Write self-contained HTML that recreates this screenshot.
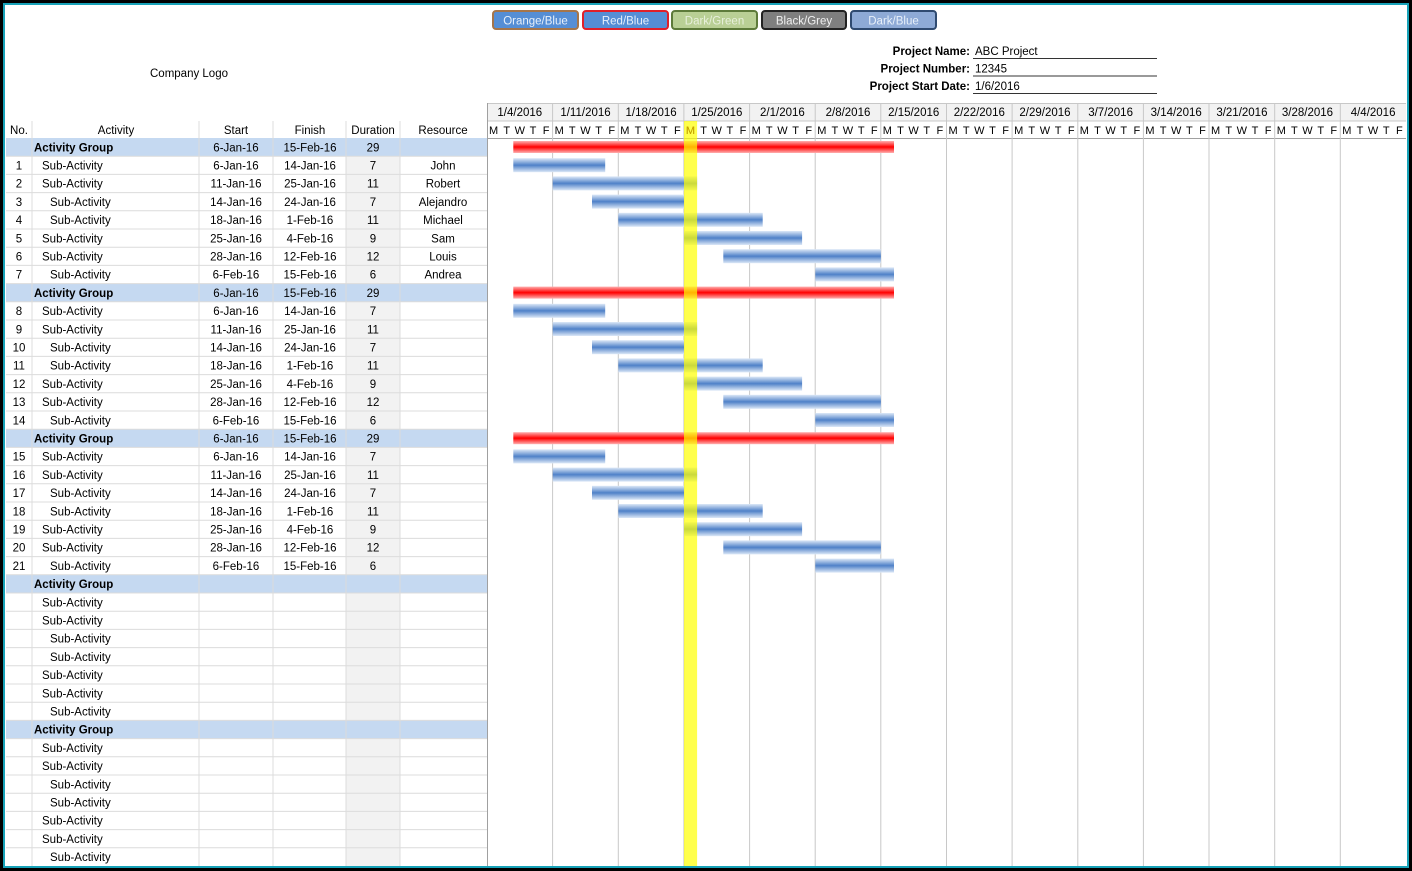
<!DOCTYPE html>
<html><head><meta charset="utf-8"><style>
html,body{margin:0;padding:0;background:#000;}
svg{display:block;font-family:"Liberation Sans",sans-serif;}
</style></head><body>
<svg width="1412" height="871" viewBox="0 0 1412 871" xmlns="http://www.w3.org/2000/svg">
<defs>
<linearGradient id="gb" x1="0" y1="0" x2="0" y2="1"><stop offset="0" stop-color="#dce8f7"/><stop offset="0.5" stop-color="#4f81c8"/><stop offset="1" stop-color="#dce8f7"/></linearGradient>
<linearGradient id="gr" x1="0" y1="0" x2="0" y2="1"><stop offset="0" stop-color="#ffb0b0"/><stop offset="0.5" stop-color="#ff0000"/><stop offset="1" stop-color="#ffb0b0"/></linearGradient>
</defs>
<rect x="0" y="0" width="1412" height="871" fill="#000"/>
<rect x="4" y="4" width="1404" height="863" fill="#fff" stroke="#17a2b8" stroke-width="2"/>

<!-- buttons -->
<g font-size="11.5" text-anchor="middle">
<rect x="493" y="11" width="85" height="18" rx="3" fill="#558ed5" stroke="#a5754a" stroke-width="2"/><text x="535.5" y="24.5" fill="#e8f0fa">Orange/Blue</text>
<rect x="583" y="11" width="85" height="18" rx="3" fill="#558ed5" stroke="#e0202a" stroke-width="2"/><text x="625.5" y="24.5" fill="#e8f0fa">Red/Blue</text>
<rect x="672" y="11" width="85" height="18" rx="3" fill="#b9cf95" stroke="#5d7a3a" stroke-width="2"/><text x="714.5" y="24.5" fill="#e8f0dc">Dark/Green</text>
<rect x="762" y="11" width="84" height="18" rx="3" fill="#7f7f7f" stroke="#222" stroke-width="2"/><text x="804" y="24.5" fill="#f0f0f0">Black/Grey</text>
<rect x="851" y="11" width="85" height="18" rx="3" fill="#8eaad6" stroke="#2f4a70" stroke-width="2"/><text x="893.5" y="24.5" fill="#e8f0fa">Dark/Blue</text>
</g>

<text x="189" y="77" font-size="11.5" text-anchor="middle">Company Logo</text>

<g font-size="11.5">
<text x="970" y="55" text-anchor="end" font-weight="bold">Project Name:</text><text x="975" y="55">ABC Project</text>
<text x="970" y="72.5" text-anchor="end" font-weight="bold">Project Number:</text><text x="975" y="72.5">12345</text>
<text x="970" y="90" text-anchor="end" font-weight="bold">Project Start Date:</text><text x="975" y="90">1/6/2016</text>
<g stroke="#333" stroke-width="1"><line x1="973" y1="58.5" x2="1157" y2="58.5"/><line x1="973" y1="76" x2="1157" y2="76"/><line x1="973" y1="93.5" x2="1157" y2="93.5"/></g>
</g>

<!-- gantt header -->
<rect x="487" y="103" width="919" height="18" fill="#f2f2f2"/>
<g stroke="#c8c8c8" stroke-width="1">
<line x1="487" y1="103.5" x2="1406" y2="103.5"/>
<line x1="487" y1="121" x2="1406" y2="121"/>
<line x1="6" y1="138.5" x2="1406" y2="138.5" stroke="#a0a0a0"/>
</g>

<!-- left table backgrounds -->
<rect x="346" y="138" width="54" height="728" fill="#f2f2f2"/>
<g fill="#c5d9f1">
<rect x="6" y="138" width="481" height="18.2"/>
<rect x="6" y="283.6" width="481" height="18.2"/>
<rect x="6" y="429.2" width="481" height="18.2"/>
<rect x="6" y="574.8" width="481" height="18.2"/>
<rect x="6" y="720.4" width="481" height="18.2"/>
</g>
<g stroke="#dcdcdc" stroke-width="1">
<line x1="6" y1="156.2" x2="487" y2="156.2"/><line x1="6" y1="174.4" x2="487" y2="174.4"/><line x1="6" y1="192.6" x2="487" y2="192.6"/><line x1="6" y1="210.8" x2="487" y2="210.8"/><line x1="6" y1="229" x2="487" y2="229"/><line x1="6" y1="247.2" x2="487" y2="247.2"/><line x1="6" y1="265.4" x2="487" y2="265.4"/><line x1="6" y1="283.6" x2="487" y2="283.6"/>
<line x1="6" y1="301.8" x2="487" y2="301.8"/><line x1="6" y1="320" x2="487" y2="320"/><line x1="6" y1="338.2" x2="487" y2="338.2"/><line x1="6" y1="356.4" x2="487" y2="356.4"/><line x1="6" y1="374.6" x2="487" y2="374.6"/><line x1="6" y1="392.8" x2="487" y2="392.8"/><line x1="6" y1="411" x2="487" y2="411"/><line x1="6" y1="429.2" x2="487" y2="429.2"/>
<line x1="6" y1="447.4" x2="487" y2="447.4"/><line x1="6" y1="465.6" x2="487" y2="465.6"/><line x1="6" y1="483.8" x2="487" y2="483.8"/><line x1="6" y1="502" x2="487" y2="502"/><line x1="6" y1="520.2" x2="487" y2="520.2"/><line x1="6" y1="538.4" x2="487" y2="538.4"/><line x1="6" y1="556.6" x2="487" y2="556.6"/><line x1="6" y1="574.8" x2="487" y2="574.8"/>
<line x1="6" y1="593" x2="487" y2="593"/><line x1="6" y1="611.2" x2="487" y2="611.2"/><line x1="6" y1="629.4" x2="487" y2="629.4"/><line x1="6" y1="647.6" x2="487" y2="647.6"/><line x1="6" y1="665.8" x2="487" y2="665.8"/><line x1="6" y1="684" x2="487" y2="684"/><line x1="6" y1="702.2" x2="487" y2="702.2"/><line x1="6" y1="720.4" x2="487" y2="720.4"/>
<line x1="6" y1="738.6" x2="487" y2="738.6"/><line x1="6" y1="756.8" x2="487" y2="756.8"/><line x1="6" y1="775" x2="487" y2="775"/><line x1="6" y1="793.2" x2="487" y2="793.2"/><line x1="6" y1="811.4" x2="487" y2="811.4"/><line x1="6" y1="829.6" x2="487" y2="829.6"/><line x1="6" y1="847.8" x2="487" y2="847.8"/>
<line x1="32" y1="121" x2="32" y2="866"/><line x1="199" y1="121" x2="199" y2="866"/><line x1="273" y1="121" x2="273" y2="866"/><line x1="346" y1="121" x2="346" y2="866"/><line x1="400" y1="121" x2="400" y2="866"/>
</g>
<line x1="487.5" y1="103" x2="487.5" y2="866" stroke="#a0a0a0"/>

<!-- week lines -->
<g stroke="#c8c8c8" stroke-width="1">
<line x1="552.6" y1="103" x2="552.6" y2="866"/><line x1="618.3" y1="103" x2="618.3" y2="866"/><line x1="683.9" y1="103" x2="683.9" y2="866"/><line x1="749.6" y1="103" x2="749.6" y2="866"/><line x1="815.2" y1="103" x2="815.2" y2="866"/><line x1="880.8" y1="103" x2="880.8" y2="866"/><line x1="946.5" y1="103" x2="946.5" y2="866"/><line x1="1012.1" y1="103" x2="1012.1" y2="866"/><line x1="1077.8" y1="103" x2="1077.8" y2="866"/><line x1="1143.4" y1="103" x2="1143.4" y2="866"/><line x1="1209" y1="103" x2="1209" y2="866"/><line x1="1274.7" y1="103" x2="1274.7" y2="866"/><line x1="1340.3" y1="103" x2="1340.3" y2="866"/>
</g>

<!-- header texts -->
<g font-size="11.5" text-anchor="middle">
<text x="19" y="134">No.</text><text x="116" y="134">Activity</text><text x="236" y="134">Start</text><text x="310" y="134">Finish</text><text x="373" y="134">Duration</text><text x="443" y="134">Resource</text>
<text x="519.8" y="116">1/4/2016</text><text x="585.5" y="116">1/11/2016</text><text x="651.1" y="116">1/18/2016</text><text x="716.8" y="116">1/25/2016</text><text x="782.4" y="116">2/1/2016</text><text x="848" y="116">2/8/2016</text><text x="913.7" y="116">2/15/2016</text><text x="979.3" y="116">2/22/2016</text><text x="1045" y="116">2/29/2016</text><text x="1110.6" y="116">3/7/2016</text><text x="1176.2" y="116">3/14/2016</text><text x="1241.9" y="116">3/21/2016</text><text x="1307.5" y="116">3/28/2016</text><text x="1373.1" y="116">4/4/2016</text>
</g>
<g font-size="11" text-anchor="middle">
<g transform="translate(487,134)"><text x="6.6 19.7 32.8 46 59.1">MTWTF</text></g>
<g transform="translate(552.6,134)"><text x="6.6 19.7 32.8 46 59.1">MTWTF</text></g>
<g transform="translate(618.3,134)"><text x="6.6 19.7 32.8 46 59.1">MTWTF</text></g>
<g transform="translate(683.9,134)"><text x="6.6 19.7 32.8 46 59.1">MTWTF</text></g>
<g transform="translate(749.6,134)"><text x="6.6 19.7 32.8 46 59.1">MTWTF</text></g>
<g transform="translate(815.2,134)"><text x="6.6 19.7 32.8 46 59.1">MTWTF</text></g>
<g transform="translate(880.8,134)"><text x="6.6 19.7 32.8 46 59.1">MTWTF</text></g>
<g transform="translate(946.5,134)"><text x="6.6 19.7 32.8 46 59.1">MTWTF</text></g>
<g transform="translate(1012.1,134)"><text x="6.6 19.7 32.8 46 59.1">MTWTF</text></g>
<g transform="translate(1077.8,134)"><text x="6.6 19.7 32.8 46 59.1">MTWTF</text></g>
<g transform="translate(1143.4,134)"><text x="6.6 19.7 32.8 46 59.1">MTWTF</text></g>
<g transform="translate(1209,134)"><text x="6.6 19.7 32.8 46 59.1">MTWTF</text></g>
<g transform="translate(1274.7,134)"><text x="6.6 19.7 32.8 46 59.1">MTWTF</text></g>
<g transform="translate(1340.3,134)"><text x="6.6 19.7 32.8 46 59.1">MTWTF</text></g>
</g>

<!-- bars: 3 groups -->
<g id="bars">
<rect x="513.3" y="141" width="380.7" height="12" fill="url(#gr)"/>
<rect x="513.3" y="158.2" width="91.9" height="14" fill="url(#gb)"/>
<rect x="552.7" y="176.4" width="144.4" height="14" fill="url(#gb)"/>
<rect x="592" y="194.6" width="92" height="14" fill="url(#gb)"/>
<rect x="618.3" y="212.8" width="144.4" height="14" fill="url(#gb)"/>
<rect x="684" y="231" width="118.1" height="14" fill="url(#gb)"/>
<rect x="723.3" y="249.2" width="157.6" height="14" fill="url(#gb)"/>
<rect x="815.3" y="267.4" width="78.7" height="14" fill="url(#gb)"/>
</g>
<use href="#bars" y="145.6"/>
<use href="#bars" y="291.2"/>

<!-- today highlight -->
<rect x="684" y="121" width="13.1" height="745" fill="#ffff00" opacity="0.7"/>
<text x="690.5" y="134" font-size="11" text-anchor="middle" fill="#c8a000">M</text>

<!-- table rows text -->
<g font-size="11.5">
<!-- group 1 -->
<text x="34" y="151.3" font-weight="bold">Activity Group</text><text x="236" y="151.3" text-anchor="middle">6-Jan-16</text><text x="310" y="151.3" text-anchor="middle">15-Feb-16</text><text x="373" y="151.3" text-anchor="middle">29</text>
<text x="19" y="169.5" text-anchor="middle">1</text><text x="42" y="169.5">Sub-Activity</text><text x="236" y="169.5" text-anchor="middle">6-Jan-16</text><text x="310" y="169.5" text-anchor="middle">14-Jan-16</text><text x="373" y="169.5" text-anchor="middle">7</text><text x="443" y="169.5" text-anchor="middle">John</text>
<text x="19" y="187.7" text-anchor="middle">2</text><text x="42" y="187.7">Sub-Activity</text><text x="236" y="187.7" text-anchor="middle">11-Jan-16</text><text x="310" y="187.7" text-anchor="middle">25-Jan-16</text><text x="373" y="187.7" text-anchor="middle">11</text><text x="443" y="187.7" text-anchor="middle">Robert</text>
<text x="19" y="205.9" text-anchor="middle">3</text><text x="50" y="205.9">Sub-Activity</text><text x="236" y="205.9" text-anchor="middle">14-Jan-16</text><text x="310" y="205.9" text-anchor="middle">24-Jan-16</text><text x="373" y="205.9" text-anchor="middle">7</text><text x="443" y="205.9" text-anchor="middle">Alejandro</text>
<text x="19" y="224.1" text-anchor="middle">4</text><text x="50" y="224.1">Sub-Activity</text><text x="236" y="224.1" text-anchor="middle">18-Jan-16</text><text x="310" y="224.1" text-anchor="middle">1-Feb-16</text><text x="373" y="224.1" text-anchor="middle">11</text><text x="443" y="224.1" text-anchor="middle">Michael</text>
<text x="19" y="242.3" text-anchor="middle">5</text><text x="42" y="242.3">Sub-Activity</text><text x="236" y="242.3" text-anchor="middle">25-Jan-16</text><text x="310" y="242.3" text-anchor="middle">4-Feb-16</text><text x="373" y="242.3" text-anchor="middle">9</text><text x="443" y="242.3" text-anchor="middle">Sam</text>
<text x="19" y="260.5" text-anchor="middle">6</text><text x="42" y="260.5">Sub-Activity</text><text x="236" y="260.5" text-anchor="middle">28-Jan-16</text><text x="310" y="260.5" text-anchor="middle">12-Feb-16</text><text x="373" y="260.5" text-anchor="middle">12</text><text x="443" y="260.5" text-anchor="middle">Louis</text>
<text x="19" y="278.7" text-anchor="middle">7</text><text x="50" y="278.7">Sub-Activity</text><text x="236" y="278.7" text-anchor="middle">6-Feb-16</text><text x="310" y="278.7" text-anchor="middle">15-Feb-16</text><text x="373" y="278.7" text-anchor="middle">6</text><text x="443" y="278.7" text-anchor="middle">Andrea</text>
<!-- group 2 -->
<text x="34" y="296.9" font-weight="bold">Activity Group</text><text x="236" y="296.9" text-anchor="middle">6-Jan-16</text><text x="310" y="296.9" text-anchor="middle">15-Feb-16</text><text x="373" y="296.9" text-anchor="middle">29</text>
<text x="19" y="315.1" text-anchor="middle">8</text><text x="42" y="315.1">Sub-Activity</text><text x="236" y="315.1" text-anchor="middle">6-Jan-16</text><text x="310" y="315.1" text-anchor="middle">14-Jan-16</text><text x="373" y="315.1" text-anchor="middle">7</text>
<text x="19" y="333.3" text-anchor="middle">9</text><text x="42" y="333.3">Sub-Activity</text><text x="236" y="333.3" text-anchor="middle">11-Jan-16</text><text x="310" y="333.3" text-anchor="middle">25-Jan-16</text><text x="373" y="333.3" text-anchor="middle">11</text>
<text x="19" y="351.5" text-anchor="middle">10</text><text x="50" y="351.5">Sub-Activity</text><text x="236" y="351.5" text-anchor="middle">14-Jan-16</text><text x="310" y="351.5" text-anchor="middle">24-Jan-16</text><text x="373" y="351.5" text-anchor="middle">7</text>
<text x="19" y="369.7" text-anchor="middle">11</text><text x="50" y="369.7">Sub-Activity</text><text x="236" y="369.7" text-anchor="middle">18-Jan-16</text><text x="310" y="369.7" text-anchor="middle">1-Feb-16</text><text x="373" y="369.7" text-anchor="middle">11</text>
<text x="19" y="387.9" text-anchor="middle">12</text><text x="42" y="387.9">Sub-Activity</text><text x="236" y="387.9" text-anchor="middle">25-Jan-16</text><text x="310" y="387.9" text-anchor="middle">4-Feb-16</text><text x="373" y="387.9" text-anchor="middle">9</text>
<text x="19" y="406.1" text-anchor="middle">13</text><text x="42" y="406.1">Sub-Activity</text><text x="236" y="406.1" text-anchor="middle">28-Jan-16</text><text x="310" y="406.1" text-anchor="middle">12-Feb-16</text><text x="373" y="406.1" text-anchor="middle">12</text>
<text x="19" y="424.3" text-anchor="middle">14</text><text x="50" y="424.3">Sub-Activity</text><text x="236" y="424.3" text-anchor="middle">6-Feb-16</text><text x="310" y="424.3" text-anchor="middle">15-Feb-16</text><text x="373" y="424.3" text-anchor="middle">6</text>
<!-- group 3 -->
<text x="34" y="442.5" font-weight="bold">Activity Group</text><text x="236" y="442.5" text-anchor="middle">6-Jan-16</text><text x="310" y="442.5" text-anchor="middle">15-Feb-16</text><text x="373" y="442.5" text-anchor="middle">29</text>
<text x="19" y="460.7" text-anchor="middle">15</text><text x="42" y="460.7">Sub-Activity</text><text x="236" y="460.7" text-anchor="middle">6-Jan-16</text><text x="310" y="460.7" text-anchor="middle">14-Jan-16</text><text x="373" y="460.7" text-anchor="middle">7</text>
<text x="19" y="478.9" text-anchor="middle">16</text><text x="42" y="478.9">Sub-Activity</text><text x="236" y="478.9" text-anchor="middle">11-Jan-16</text><text x="310" y="478.9" text-anchor="middle">25-Jan-16</text><text x="373" y="478.9" text-anchor="middle">11</text>
<text x="19" y="497.1" text-anchor="middle">17</text><text x="50" y="497.1">Sub-Activity</text><text x="236" y="497.1" text-anchor="middle">14-Jan-16</text><text x="310" y="497.1" text-anchor="middle">24-Jan-16</text><text x="373" y="497.1" text-anchor="middle">7</text>
<text x="19" y="515.3" text-anchor="middle">18</text><text x="50" y="515.3">Sub-Activity</text><text x="236" y="515.3" text-anchor="middle">18-Jan-16</text><text x="310" y="515.3" text-anchor="middle">1-Feb-16</text><text x="373" y="515.3" text-anchor="middle">11</text>
<text x="19" y="533.5" text-anchor="middle">19</text><text x="42" y="533.5">Sub-Activity</text><text x="236" y="533.5" text-anchor="middle">25-Jan-16</text><text x="310" y="533.5" text-anchor="middle">4-Feb-16</text><text x="373" y="533.5" text-anchor="middle">9</text>
<text x="19" y="551.7" text-anchor="middle">20</text><text x="42" y="551.7">Sub-Activity</text><text x="236" y="551.7" text-anchor="middle">28-Jan-16</text><text x="310" y="551.7" text-anchor="middle">12-Feb-16</text><text x="373" y="551.7" text-anchor="middle">12</text>
<text x="19" y="569.9" text-anchor="middle">21</text><text x="50" y="569.9">Sub-Activity</text><text x="236" y="569.9" text-anchor="middle">6-Feb-16</text><text x="310" y="569.9" text-anchor="middle">15-Feb-16</text><text x="373" y="569.9" text-anchor="middle">6</text>
<!-- group 4 -->
<text x="34" y="588.1" font-weight="bold">Activity Group</text>
<text x="42" y="606.3">Sub-Activity</text>
<text x="42" y="624.5">Sub-Activity</text>
<text x="50" y="642.7">Sub-Activity</text>
<text x="50" y="660.9">Sub-Activity</text>
<text x="42" y="679.1">Sub-Activity</text>
<text x="42" y="697.3">Sub-Activity</text>
<text x="50" y="715.5">Sub-Activity</text>
<!-- group 5 -->
<text x="34" y="733.7" font-weight="bold">Activity Group</text>
<text x="42" y="751.9">Sub-Activity</text>
<text x="42" y="770.1">Sub-Activity</text>
<text x="50" y="788.3">Sub-Activity</text>
<text x="50" y="806.5">Sub-Activity</text>
<text x="42" y="824.7">Sub-Activity</text>
<text x="42" y="842.9">Sub-Activity</text>
<text x="50" y="861.1">Sub-Activity</text>
</g>
</svg>
</body></html>
